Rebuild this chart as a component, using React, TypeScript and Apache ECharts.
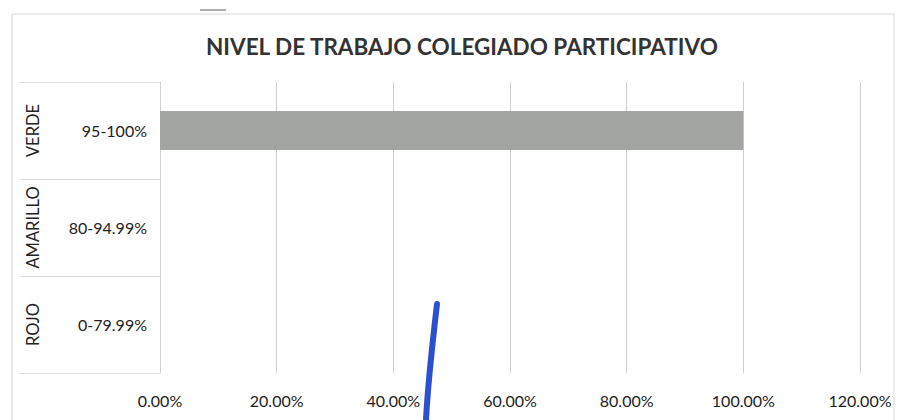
import React, { useEffect, useRef } from "react";
import * as echarts from "echarts";

const levels = ["ROJO", "AMARILLO", "VERDE"];
const ranges = ["0-79.99%", "80-94.99%", "95-100%"];
const values = [0, 0, 1.0];
const xTicks = { min: 0, max: 1.2, interval: 0.2 };
const title = "NIVEL DE TRABAJO COLEGIADO PARTICIPATIVO";

const FONT = "Lato, 'Open Sans', sans-serif";

export default function App() {
  const ref = useRef<HTMLDivElement>(null);
  useEffect(() => {
    const chart = echarts.init(ref.current!, null, { renderer: "svg" });
    chart.setOption({
      animation: false,
      backgroundColor: "#ffffff",
      title: {
        text: title,
        left: 201,
        top: 30,
        textStyle: { fontFamily: FONT, fontSize: 22.5, fontWeight: "bold", color: "#333333" },
      },
      grid: { left: 160, right: 41, top: 82, bottom: 47 },
      xAxis: {
        type: "value",
        min: xTicks.min,
        max: xTicks.max,
        interval: xTicks.interval,
        axisLine: { show: false },
        axisTick: { show: false },
        splitLine: { show: true, lineStyle: { color: "#cfcfcf", width: 1 } },
        axisLabel: {
          margin: 19,
          fontFamily: FONT,
          fontSize: 16,
          color: "#222",
          formatter: (v: number) => (v * 100).toFixed(2) + "%",
        },
      },
      yAxis: [
        {
          type: "category",
          data: ranges,
          position: "left",
          axisLine: { show: true, lineStyle: { color: "#d0d0d0" } },
          axisTick: { show: false },
          axisLabel: { interval: 0, margin: 13, fontFamily: FONT, fontSize: 16, color: "#222" },
        },
        {
          type: "category",
          data: levels,
          position: "left",
          offset: 0,
          axisLine: { show: false },
          axisTick: { show: true, interval: 0, length: 140, lineStyle: { color: "#dcdcdc" } },
          axisLabel: { interval: 0, rotate: 90, margin: 119, fontFamily: FONT, fontSize: 16.5, color: "#222" },
        },
      ],
      series: [
        {
          type: "bar",
          yAxisIndex: 0,
          data: values,
          barWidth: "40%",
          itemStyle: { color: "#a3a5a3" },
        },
      ],
      graphic: [
        {
          type: "rect",
          shape: { x: 12, y: 14, width: 882, height: 420 },
          style: { fill: "none", stroke: "#d8d8d8", lineWidth: 1 },
          silent: true,
        },
        {
          type: "line",
          shape: { x1: 200, y1: 10, x2: 226, y2: 10 },
          style: { stroke: "#777", lineWidth: 1.2 },
          silent: true,
        },
        {
          type: "bezierCurve",
          shape: { x1: 437, y1: 304, cpx1: 434, cpy1: 330, cpx2: 428, cpy2: 380, x2: 426, y2: 420 },
          style: { stroke: "#2a4fd0", lineWidth: 6, lineCap: "round", fill: "none" },
          silent: true,
        },
      ],
    });
    return () => chart.dispose();
  }, []);
  return <div ref={ref} style={{ width: 901, height: 420, position: "absolute", left: 0, top: 0 }} />;
}
